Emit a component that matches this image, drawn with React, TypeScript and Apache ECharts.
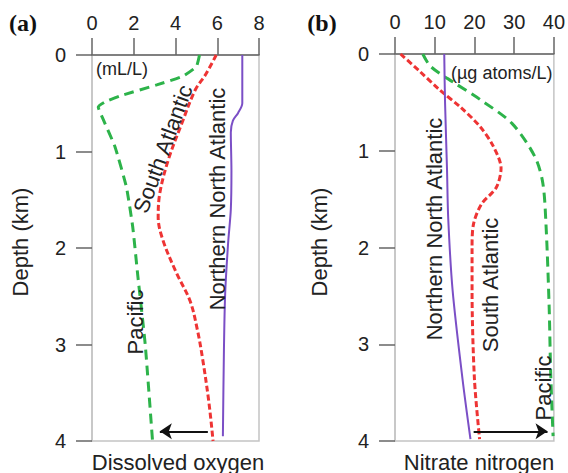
import React, { useEffect, useRef } from "react";
import * as echarts from "echarts";

// Panel (a): dissolved oxygen (mL/L) vs depth (km)
const pacificO2 = [5.15, 5.0, 4.35, 3.1, 1.4, 0.6, 0.3, 0.5, 1.1, 1.65, 1.95, 2.2, 2.55, 2.9];
const pacificO2Depth = [0, 0.12, 0.22, 0.31, 0.42, 0.49, 0.54, 0.65, 0.95, 1.37, 1.78, 2.3, 3.0, 4.0];
const southAtlO2 = [5.95, 5.45, 4.95, 4.3, 3.65, 3.25, 3.17, 3.4, 4.05, 4.7, 5.05, 5.3, 5.6, 5.8];
const southAtlO2Depth = [0, 0.2, 0.36, 0.71, 1.09, 1.43, 1.68, 1.92, 2.26, 2.55, 2.85, 3.15, 3.6, 4.0];
const northAtlO2 = [7.2, 7.2, 7.0, 6.75, 6.65, 6.68, 6.65, 6.52, 6.38, 6.32, 6.27];
const northAtlO2Depth = [0, 0.5, 0.6, 0.68, 0.8, 1.2, 1.6, 1.95, 2.47, 3.06, 3.95];
const o2Arrow = [5.55, 3.25];
const o2ArrowDepth = 3.9;

// Panel (b): nitrate nitrogen (µg atoms/L) vs depth (km)
const pacificNO3 = [7, 9, 15, 21.4, 29.5, 35.2, 37.2, 38, 38.8, 39.2, 39.8];
const pacificNO3Depth = [0, 0.13, 0.3, 0.47, 0.72, 1.06, 1.33, 1.75, 2.6, 3.3, 3.95];
const southAtlNO3 = [1.4, 6, 11.2, 16.5, 21.4, 24.7, 26.7, 25.5, 21.8, 19.8, 19.4, 19.4, 20, 21.3];
const southAtlNO3Depth = [0, 0.17, 0.37, 0.55, 0.75, 0.95, 1.18, 1.38, 1.55, 1.75, 2.0, 2.44, 3.36, 3.98];
const northAtlNO3 = [12.4, 12.6, 13.1, 13.4, 14.5, 17, 19];
const northAtlNO3Depth = [0, 0.5, 1.2, 1.7, 2.44, 3.36, 3.98];
const no3Arrow = [19.8, 38.4];
const no3ArrowDepth = 3.9;

const zip = (xs: number[], ys: number[]) => xs.map((x, i) => [x, ys[i]]);

const FONT = "'Liberation Sans', Arial, sans-serif";
const GREEN = "#2db34a";
const RED = "#ee3434";
const PURPLE = "#7b4fc6";

function xAxisCfg(gridIndex: number, max: number, interval: number) {
  return {
    type: "value",
    gridIndex,
    position: "top",
    min: 0,
    max,
    interval,
    axisLine: { show: true, lineStyle: { color: "#666", width: 1.5 } },
    axisTick: { show: true, length: 17, lineStyle: { color: "#666", width: 1.5 } },
    axisLabel: { fontSize: 20, color: "#222", margin: 22, fontFamily: FONT },
    splitLine: { show: false },
  };
}

function yAxisCfg(gridIndex: number) {
  return {
    type: "value",
    gridIndex,
    inverse: true,
    min: 0,
    max: 4,
    interval: 1,
    axisLine: { show: true, lineStyle: { color: "#c4c4c4", width: 1.5 } },
    axisTick: { show: true, length: 16, lineStyle: { color: "#666", width: 1.5 } },
    axisLabel: { fontSize: 20, color: "#222", margin: 26, fontFamily: FONT },
    splitLine: { show: false },
  };
}

function lineSeries(name: string, idx: number, data: number[][], color: string, width: number, type: any, smooth: number) {
  return {
    name,
    type: "line",
    xAxisIndex: idx,
    yAxisIndex: idx,
    data,
    symbol: "none",
    smooth,
    lineStyle: { color, width, type },
    z: 3,
  };
}

function arrowSeries(idx: number, xs: number[], depth: number) {
  return {
    type: "line",
    xAxisIndex: idx,
    yAxisIndex: idx,
    data: [],
    symbol: "none",
    markLine: {
      silent: true,
      symbol: ["none", "arrow"],
      symbolSize: 12,
      label: { show: false },
      lineStyle: { color: "#111", width: 1.8, type: "solid" },
      data: [[{ coord: [xs[0], depth] }, { coord: [xs[1], depth] }]],
    },
    z: 4,
  };
}

function txt(text: string, x: number, y: number, size: number, rotDeg = 0, extra: any = {}) {
  return {
    type: "text",
    x,
    y,
    rotation: (rotDeg * Math.PI) / 180,
    style: {
      text,
      fontSize: size,
      fontFamily: FONT,
      fill: "#222",
      textAlign: "center",
      textVerticalAlign: "middle",
      ...extra,
    },
    z: 10,
  };
}

const option = {
  animation: false,
  backgroundColor: "#fff",
  grid: [
    { left: 92, top: 55, width: 167, height: 386, show: true, borderColor: "#c4c4c4", borderWidth: 1.5, backgroundColor: "transparent" },
    { left: 395, top: 54, width: 165, height: 387, show: true, borderColor: "#c4c4c4", borderWidth: 1.5, backgroundColor: "transparent" },
  ],
  xAxis: [xAxisCfg(0, 8, 2), xAxisCfg(1, 40, 10)],
  yAxis: [yAxisCfg(0), yAxisCfg(1)],
  series: [
    lineSeries("Pacific", 0, zip(pacificO2, pacificO2Depth), GREEN, 3, [10, 6], 0.15),
    lineSeries("South Atlantic", 0, zip(southAtlO2, southAtlO2Depth), RED, 3, [6, 3], 0.35),
    lineSeries("Northern North Atlantic", 0, zip(northAtlO2, northAtlO2Depth), PURPLE, 2, "solid", 0.3),
    arrowSeries(0, o2Arrow, o2ArrowDepth),
    lineSeries("Pacific", 1, zip(pacificNO3, pacificNO3Depth), GREEN, 3, [10, 6], 0.3),
    lineSeries("South Atlantic", 1, zip(southAtlNO3, southAtlNO3Depth), RED, 3, [6, 3], 0.3),
    lineSeries("Northern North Atlantic", 1, zip(northAtlNO3, northAtlNO3Depth), PURPLE, 2, "solid", 0.3),
    arrowSeries(1, no3Arrow, no3ArrowDepth),
  ],
  graphic: [
    txt("(a)", 23, 23, 24, 0, { fontFamily: "'Liberation Serif', 'Times New Roman', serif", fontWeight: "bold", fill: "#111" }),
    txt("(b)", 322, 23, 24, 0, { fontFamily: "'Liberation Serif', 'Times New Roman', serif", fontWeight: "bold", fill: "#111" }),
    txt("Depth (km)", 20, 242, 22, 90),
    txt("Depth (km)", 319, 242, 22, 90),
    txt("Dissolved oxygen", 178, 462, 22),
    txt("Nitrate nitrogen", 479, 462, 22),
    txt("(mL/L)", 96, 69, 18, 0, { textAlign: "left" }),
    txt("(\u00b5g atoms/L)", 451, 73, 18, 0, { textAlign: "left" }),
    txt("South Atlantic", 163, 149, 22, 70),
    txt("Northern North Atlantic", 217, 199, 22, 90),
    txt("Pacific", 135, 322, 22, 90),
    txt("Northern North Atlantic", 434, 229, 22, 90),
    txt("South Atlantic", 490, 285, 22, 90),
    txt("Pacific", 543, 388, 22, 90),
  ],
};

export default function App() {
  const ref = useRef<HTMLDivElement>(null);
  useEffect(() => {
    const chart = echarts.init(ref.current as HTMLDivElement, null, { renderer: "svg" });
    chart.setOption(option as any);
    return () => chart.dispose();
  }, []);
  return (
    <div
      ref={ref}
      style={{ position: "fixed", left: 0, top: 0, width: 568, height: 473 }}
    />
  );
}
